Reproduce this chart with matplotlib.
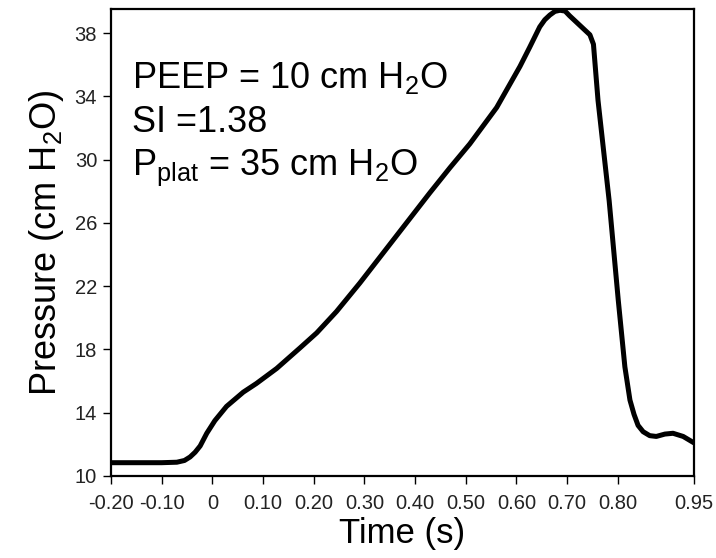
import matplotlib
matplotlib.use("Agg")
import matplotlib.pyplot as plt

plt.rcParams["font.family"] = ["Liberation Sans", "DejaVu Sans"]
plt.rcParams["mathtext.fontset"] = "custom"
plt.rcParams["mathtext.rm"] = "Liberation Sans"
plt.rcParams["mathtext.default"] = "regular"

# ----------------------------
# Data
# ----------------------------
time_s = [-0.20, -0.10, -0.07, -0.055, -0.044, -0.034, -0.024, -0.011, 0.005, 0.028,
          0.061, 0.087, 0.127, 0.173, 0.206, 0.245, 0.291, 0.337, 0.383, 0.429,
          0.469, 0.508, 0.561, 0.607, 0.626, 0.646, 0.656, 0.666, 0.676, 0.686,
          0.696, 0.705, 0.725, 0.745, 0.752, 0.761, 0.783, 0.801, 0.814, 0.824,
          0.832, 0.840, 0.850, 0.863, 0.876, 0.893, 0.909, 0.929, 0.95]
pressure = [10.84, 10.84, 10.87, 10.98, 11.2, 11.5, 11.9, 12.7, 13.5, 14.4,
            15.3, 15.85, 16.8, 18.1, 19.05, 20.4, 22.2, 24.1, 26.0, 27.9,
            29.5, 31.0, 33.3, 35.9, 37.1, 38.4, 38.85, 39.15, 39.38, 39.45,
            39.4, 39.1, 38.5, 37.9, 37.3, 33.75, 27.4, 21.1, 16.9, 14.8,
            13.9, 13.2, 12.8, 12.55, 12.5, 12.65, 12.7, 12.5, 12.1]

xticks = [-0.20, -0.10, 0, 0.10, 0.20, 0.30, 0.40, 0.50, 0.60, 0.70, 0.80, 0.95]
xtick_labels = ["-0.20", "-0.10", "0", "0.10", "0.20", "0.30", "0.40", "0.50",
                "0.60", "0.70", "0.80", "0.95"]
yticks = [10, 14, 18, 22, 26, 30, 34, 38]

notes = [r"PEEP = 10 cm H$_2$O", r"SI =1.38", r"P$_{plat}$ = 35 cm H$_2$O"]

# ----------------------------
# Plot
# ----------------------------
fig = plt.figure(figsize=(7.16, 5.58), dpi=100)
ax = fig.add_axes([0.155, 0.147, 0.814, 0.836])

ax.plot(time_s, pressure, color="black", lw=3.6, solid_joinstyle="round",
        solid_capstyle="round")

ax.set_xlim(-0.20, 0.95)
ax.set_ylim(10, 39.5)
ax.set_xticks(xticks)
ax.set_xticklabels(xtick_labels)
ax.set_yticks(yticks)

for s in ax.spines.values():
    s.set_linewidth(1.6)
ax.tick_params(axis="both", direction="out", length=6, width=1.0,
               labelsize=14.5, labelcolor="#222222")
ax.tick_params(axis="x", pad=7)
ax.tick_params(axis="y", pad=4)

ax.set_xlabel("Time (s)", fontsize=25, labelpad=3)
ax.set_ylabel(r"Pressure (cm H$_2$O)", fontsize=26, labelpad=6)

for i, txt in enumerate(notes):
    ax.text(0.036, 0.831 - i * 0.093, txt, transform=ax.transAxes,
            fontsize=26, ha="left", va="baseline")

fig.savefig("out.png", dpi=100)
